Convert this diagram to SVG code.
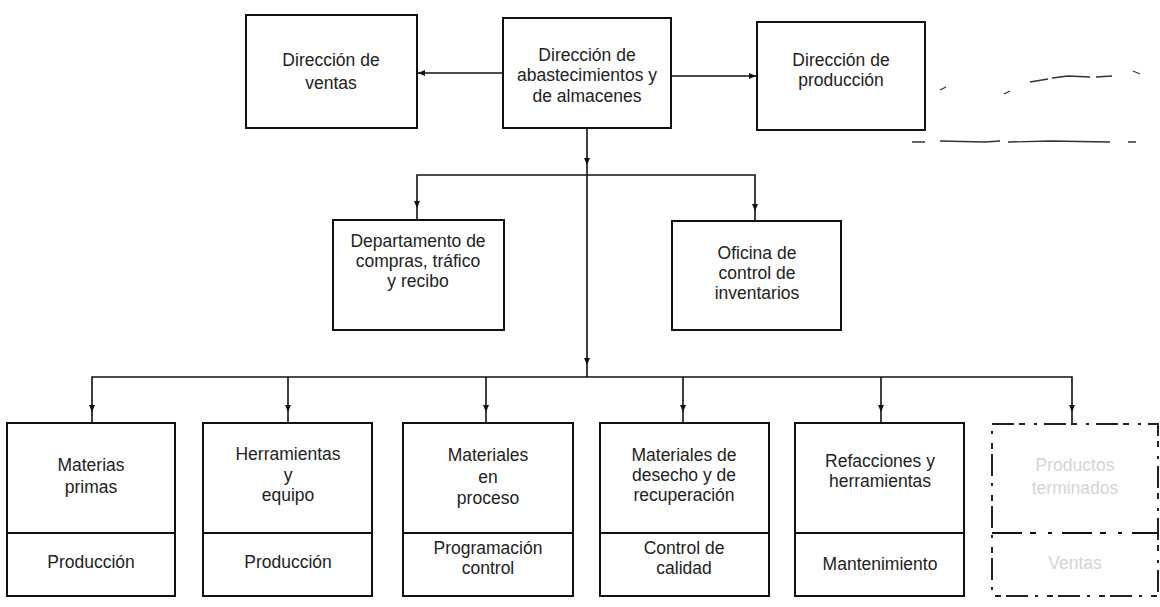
<svg xmlns="http://www.w3.org/2000/svg" width="1160" height="607" viewBox="0 0 1160 607">
<style>
.box{fill:#fff;stroke:#111;stroke-width:2}
.faded{fill:#fff;stroke:#222;stroke-width:2;stroke-dasharray:22 5 6 9 3 7}
.div{stroke:#111;stroke-width:2}
.con{fill:none;stroke:#111;stroke-width:1.6}
.scr{fill:none;stroke:#333;stroke-width:1.3}
text{font-family:"Liberation Sans",Arial,sans-serif;font-size:17.5px;fill:#222;text-anchor:middle}
.ft{fill:#d4d4d4}
</style>
<defs>
<path id="ad" d="M-3,-4 L3,-4 L0,3 Z" fill="#111"/>
<path id="al" d="M4,-3 L4,3 L-3,0 Z" fill="#111"/>
<path id="ar" d="M-4,-3 L-4,3 L3,0 Z" fill="#111"/>
</defs>

<g id="connectors">
<path class="con" d="M417,73 L503,73"/>
<path class="con" d="M671,76 L757,76"/>
<path class="con" d="M587,128 L587,377"/>
<path class="con" d="M417,220 L417,175 L755,175 L755,221"/>
<path class="con" d="M92,423 L92,377 L1072,377 L1072,423"/>
<path class="con" d="M288,377 L288,423"/>
<path class="con" d="M486,377 L486,423"/>
<path class="con" d="M683,377 L683,423"/>
<path class="con" d="M881,377 L881,423"/>
<use href="#al" x="421" y="73"/>
<use href="#ar" x="753" y="76"/>
<use href="#ad" x="587" y="162"/>
<use href="#ad" x="417" y="205"/>
<use href="#ad" x="755" y="208"/>
<use href="#ad" x="587" y="362"/>
<use href="#ad" x="92" y="409"/>
<use href="#ad" x="288" y="409"/>
<use href="#ad" x="486" y="409"/>
<use href="#ad" x="683" y="409"/>
<use href="#ad" x="881" y="409"/>
<use href="#ad" x="1072" y="409"/>
</g>

<g id="scribbles">
<path class="scr" d="M940,90 L946,87"/>
<path class="scr" d="M1004,94 L1010,91"/>
<path class="scr" d="M1030,82 L1048,79 M1052,78 L1068,76 L1090,77 M1096,77 L1112,76"/>
<path class="scr" d="M1133,71 L1140,74"/>
<path class="scr" d="M912,142 L925,142 M940,141 L985,142 L1000,141 M1008,142 L1050,141 L1110,142 M1128,142 L1136,142"/>
</g>

<g id="n-ventas">
<rect class="box" x="246" y="15" width="171" height="113"/>
<text x="331" y="66">Dirección de</text>
<text x="331" y="89">ventas</text>
</g>

<g id="n-abastecimientos">
<rect class="box" x="503" y="18" width="168" height="110"/>
<text x="587" y="61">Dirección de</text>
<text x="587" y="81">abastecimientos y</text>
<text x="587" y="102">de almacenes</text>
</g>

<g id="n-produccion">
<rect class="box" x="757" y="22" width="168" height="108"/>
<text x="841" y="66">Dirección de</text>
<text x="841" y="86">producción</text>
</g>

<g id="n-compras">
<rect class="box" x="333" y="220" width="171" height="110"/>
<text x="418" y="247">Departamento de</text>
<text x="418" y="267">compras, tráfico</text>
<text x="418" y="287">y recibo</text>
</g>

<g id="n-inventarios">
<rect class="box" x="672" y="221" width="169" height="109"/>
<text x="757" y="259">Oficina de</text>
<text x="757" y="279">control de</text>
<text x="757" y="299">inventarios</text>
</g>

<g id="n-materias">
<rect class="box" x="7" y="423" width="168" height="173"/>
<line class="div" x1="7" y1="533" x2="175" y2="533"/>
<text x="91" y="471">Materias</text>
<text x="91" y="493">primas</text>
<text x="91" y="568">Producción</text>
</g>

<g id="n-herramientas">
<rect class="box" x="203" y="423" width="169" height="173"/>
<line class="div" x1="203" y1="533" x2="372" y2="533"/>
<text x="288" y="460">Herramientas</text>
<text x="288" y="481">y</text>
<text x="288" y="501">equipo</text>
<text x="288" y="568">Producción</text>
</g>

<g id="n-proceso">
<rect class="box" x="403" y="423" width="170" height="173"/>
<line class="div" x1="403" y1="533" x2="573" y2="533"/>
<text x="488" y="461">Materiales</text>
<text x="488" y="483">en</text>
<text x="488" y="504">proceso</text>
<text x="488" y="554">Programación</text>
<text x="488" y="574">control</text>
</g>

<g id="n-desecho">
<rect class="box" x="600" y="423" width="169" height="173"/>
<line class="div" x1="600" y1="533" x2="769" y2="533"/>
<text x="684" y="461">Materiales de</text>
<text x="684" y="481">desecho y de</text>
<text x="684" y="501">recuperación</text>
<text x="684" y="554">Control de</text>
<text x="684" y="574">calidad</text>
</g>

<g id="n-refacciones">
<rect class="box" x="795" y="423" width="169" height="173"/>
<line class="div" x1="795" y1="533" x2="964" y2="533"/>
<text x="880" y="467">Refacciones y</text>
<text x="880" y="487">herramientas</text>
<text x="880" y="570">Mantenimiento</text>
</g>

<g id="n-terminados">
<rect class="faded" x="992" y="424" width="166" height="172"/>
<line class="div" x1="992" y1="533" x2="1158" y2="533" stroke-dasharray="30 8 6 12 4 10"/>
<text class="ft" x="1075" y="471">Productos</text>
<text class="ft" x="1075" y="494">terminados</text>
<text class="ft" x="1075" y="569">Ventas</text>
</g>
</svg>
